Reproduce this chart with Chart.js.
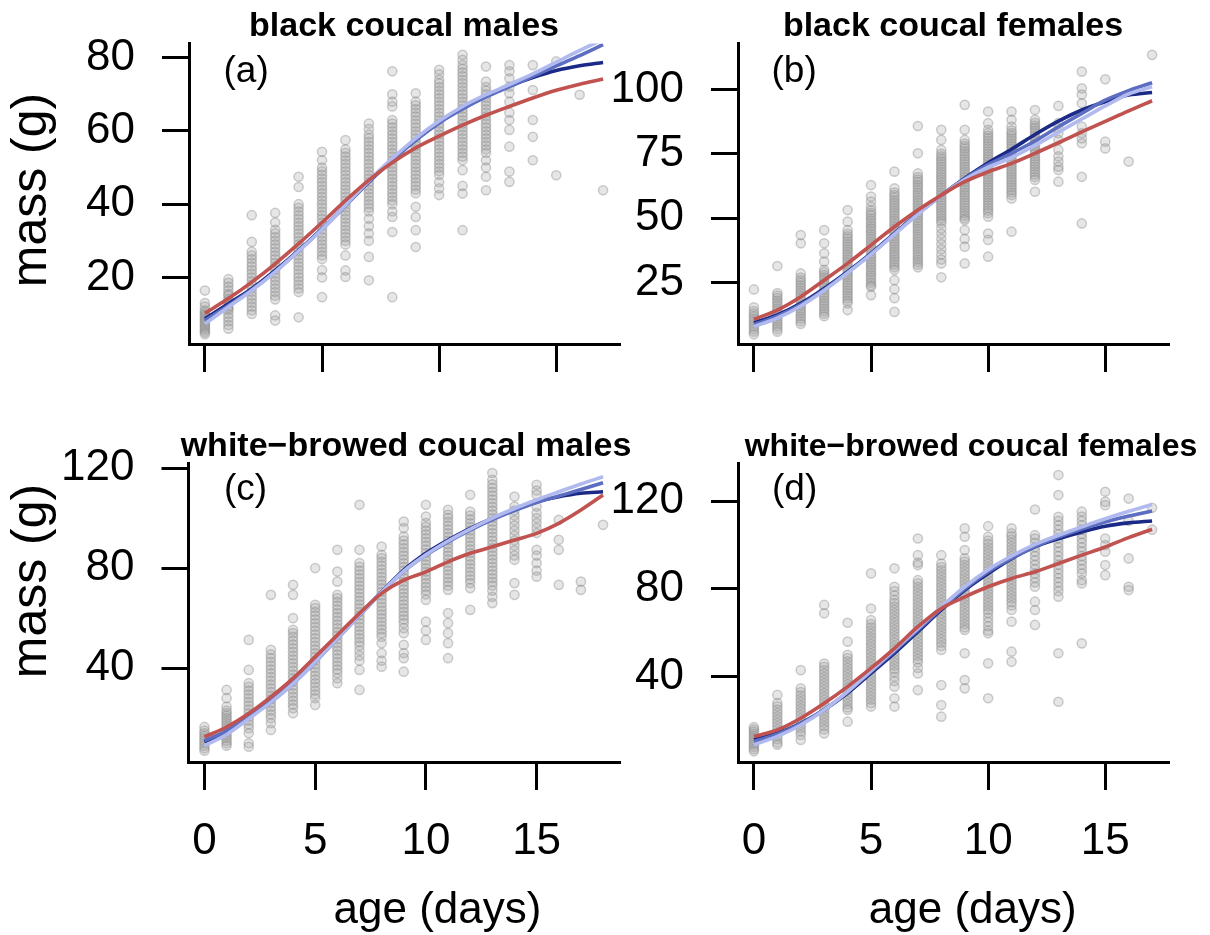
<!DOCTYPE html>
<html>
<head>
<meta charset="utf-8">
<script src="https://cdn.jsdelivr.net/npm/chart.js@4.4.1/dist/chart.umd.min.js"></script>
<style>
html,body{margin:0;padding:0;background:#fff;}
#wrap{position:relative;width:1210px;height:935px;overflow:hidden;background:#fff;}
#wrap canvas{position:absolute;left:0;top:0;}
</style>
</head>
<body>
<div id="wrap">
<canvas id="pa" width="1210" height="935"></canvas>
<canvas id="pb" width="1210" height="935"></canvas>
<canvas id="pc" width="1210" height="935"></canvas>
<canvas id="pd" width="1210" height="935"></canvas>
</div>
<script>
// ---------- tick labels ----------
const ageTicks = [0, 5, 10, 15];
const massTicksA = [20, 40, 60, 80];
const massTicksB = [25, 50, 75, 100];
const massTicksC = [40, 80, 120];
const massTicksD = [40, 80, 120];

// ---------- ages (days) ----------
const days17 = [0,1,2,3,4,5,6,7,8,9,10,11,12,13,14,15,16,17];
const days18 = [0,1,2,3,4,5,6,7,8,9,10,11,12,13,14,15,16,17,18];

// ---------- fitted growth curves (mass, g, at each day) ----------
const fitRedA   = [10.2,14.2,18.7,23.7,29.2,35.0,41.0,46.6,51.4,55.4,58.6,61.6,64.3,66.7,69.0,71.1,72.8,74.2];
const fitDarkA  = [8.7,12.8,16.9,21.9,27.4,33.3,39.7,46.1,52.1,57.5,62.3,66.2,69.6,72.3,74.6,76.5,77.8,78.7];
const fitMidA   = [8.2,12.3,16.6,21.6,27.2,33.2,39.6,46.1,52.0,57.5,62.2,66.0,69.3,72.1,74.9,77.8,80.6,83.6];
const fitLightA = [7.3,11.9,16.4,21.5,27.2,33.1,39.7,46.4,52.5,58.0,62.7,66.7,69.9,72.7,75.6,78.8,82.0,85.0];

const fitRedB   = [10.8,14.4,19.6,26.0,32.5,39.6,46.7,53.2,59.0,64.2,68.0,71.3,75.2,79.3,83.5,87.6,91.7,95.6];
const fitDarkB  = [9.5,12.5,17.0,22.8,29.3,36.4,44.2,51.9,58.8,65.5,71.5,76.8,82.5,87.7,92.0,95.2,97.8,98.8];
const fitMidB   = [8.8,12.0,16.5,22.3,29.0,36.2,44.0,51.8,59.0,65.3,70.8,75.2,80.0,85.5,90.7,95.8,99.5,102.6];
const fitLightB = [8.0,11.3,16.0,22.0,28.8,36.0,43.8,51.5,58.8,65.0,69.8,73.5,78.3,83.4,88.5,93.6,98.2,101.0];

const fitRedC   = [12.5,16.5,21.9,28.5,35.9,44.5,53.2,61.9,69.9,75.2,78.5,82.5,85.9,88.5,91.2,93.9,97.9,103.2,109.2];
const fitDarkC  = [10.5,14.5,20.5,26.5,33.9,42.5,51.9,61.2,70.5,79.2,85.9,91.2,95.9,99.9,103.2,106.5,108.5,109.9,110.5];
const fitMidC   = [11.0,15.0,20.8,27.0,34.3,42.8,52.0,61.2,70.3,78.7,85.2,90.5,95.2,99.4,103.0,106.2,108.8,111.4,114.1];
const fitLightC = [9.0,13.5,19.8,26.3,33.8,42.5,51.8,61.2,70.4,78.8,85.3,90.8,95.6,100.0,103.8,107.3,110.5,113.6,116.5];

const fitRedD   = [12.8,15.8,21.1,27.9,35.5,43.9,52.9,62.8,71.1,76.4,81.0,84.8,87.8,91.6,95.4,99.1,103.4,107.2];
const fitDarkD  = [11.3,14.3,18.8,24.9,32.5,41.6,50.7,60.5,70.4,79.5,87.0,93.8,99.2,102.9,106.0,108.6,110.1,111.0];
const fitMidD   = [10.5,13.8,18.6,25.0,33.0,42.3,51.7,61.3,71.0,80.0,87.8,94.0,99.3,103.6,107.3,110.5,113.2,115.5];
const fitLightD = [9.0,12.8,18.0,24.8,33.2,42.8,52.3,62.0,71.8,81.0,88.8,95.0,100.3,104.5,108.3,112.0,115.4,118.5];

// ---------- observed masses (g), one list per day ----------
const massA = [
 [16.4,13,12,11,10.5,10,9.5,9,8.5,8,7.5,7,6.5,6,5.5,5,4.5],
 [19.5,18.5,17.5,16.5,15.5,15,14,13.5,13,12,11.5,11,10,9,8,7,6],
 [37,29.7,27,26,25,24,23,22,21,20,19,18,17,16,15,14,13,12,11,10],
 [37.6,35,33,32,31,30,29,28,27,26,25,24,23,22,21,20,19,18,17,16,15,14,9.6,8.2],
 [47.5,44.7,40,39,38,37,36,35,34,33,32,31,30,29,28,27,26,25,24,23,22,21,20,19,18,17,16,9.1],
 [54.3,52,50,49,48,47,46,45,44,43,42,41,40,39,38,37,36,35,34,33,32,31,30,29,28,27,26,25,22,20,14.6],
 [57.5,55,54,53,52,51,50,49,48,47,46,45,44,43,42,41,40,39,38,37,36,35,34,33,32,31,30,29,26,21.9,20.1],
 [62,60.5,59,58,57,56,55,54,53,52,51,50,49,48,47,46,45,44,43,42,41,40,39,38,36,34,32,30,25.6,19.2],
 [76.3,70,68,66.7,63,62,61,60,59,58,57,56,55,54,53,52,51,50,49,48,47,46,45,44,43,42,41,40,38,36.5,32.4,14.6],
 [70.3,68,67,66,65,64,63,62,61,60,59,58,57,56,55,54,53,52,51,50,49,48,47,46,45,44,43,39.3,36.5,32.9,28.3],
 [76.7,75.5,74,73,72,71,70,69,68,67,66,65,64,63,62,61,60,59,58,57,56,55,54,53,52,51,50,49,48,46,44.3,42.5],
 [80.8,79.4,78,77,76,75,74,73,72,71,70,69,68,67,66,65,64,63,62,61,60,59,58,57,56,55,54,53,52,49.3,45,42.9,32.9],
 [77.6,73.5,72,71,70,69,68,67,66,65,64,63,62,61,60,59,58,57,56,55,54,52,50,47.5,43.8],
 [78,76.3,74.4,72.1,70.3,68,65,63,60.3,55.7,48.9,46.1],
 [78,71.2,63,58.4,52],
 [79,47.9],
 [69.9],
 [43.8]
];
const massB = [
 [22.4,15.5,14,13,12,11,10,9,8,7,6,5],
 [31.5,21,20,19,18,17,16,15,14,13,12,11,10,9,8,7,6],
 [43.5,40.3,28.6,27,26,25,24,23,22,21,20,19,18,17,16,15,14,13,12,11,10,9],
 [45.4,40.3,36.4,33.2,30,29,28,27,26,25,24,23,22,21,20,19,18,17,16,15,14,13,12],
 [53.2,48.7,45.4,44,43,42,41,40,39,38,37,36,35,34,33,32,31,30,29,28,27,26,25,24,23,22,21,20,19,18,17,14.4],
 [62.9,58.4,56.5,54.5,53,52,51,50,49,48,47,46,45,44,43,42,41,40,39,38,37,36,35,34,33,32,31,30,29,28,27,26,25,24,23.4,20.2],
 [68.1,61.6,60,59,58,57,56,55,54,53,52,51,50,49,48,47,46,45,44,43,42,41,40,39,38,37,36,35,34,33,32,31,30,26,22.5,19,13.7],
 [85.8,75.2,67.4,66,65,64,63,62,61,60,59,58,57,56,55,54,53,52,51,50,49,48,47,46,45,44,43,42,41,40,39,38,37,36,35,34,33,32,31],
 [84.3,80.4,76.5,75,74,73,72,71,70,69,68,67,66,65,64,63,62,61,60,59,58,57,56,55,54,53,52,51,50,49,48,46,44,42,40,38,36,34,32.5,27.1],
 [94,84.3,80.4,79,78,77,76,75,74,73,72,71,70,69,68,67,66,65,64,63,62,61,60,59,58,57,56,55,54,53,52,51,50,49.3,45.4,42,39,32.5],
 [91.4,86.9,84.3,83,82,81,80,79,78,77,76,75,74,73,72,71,70,69,68,67,66,65,64,63,62,61,60,59,58,57,56,55,54,53,52,50.6,44.1,41.6,35.1],
 [91.4,88.2,85.6,84,83,82,81,80,79,78,77,76,75,74,73,72,71,70,69,68,67,66,65,64,63,62,61,60,59,57.7,44.8],
 [92,88.2,87,86,85,84,83,82,81,80,79,78,77,76,75,74,73,72,71,70,69,68,67,66,64.9,60.3],
 [93.6,86.9,85,83,80.4,76.5,74,72,70,68.7,64.2],
 [106.9,100.4,98,94.6,85.6,83,81,79.1,66.1,48],
 [103.9,79.7,77.1],
 [72],
 [113.4]
];
const massC = [
 [16.5,15,14,13,12,11,10,9,8,7],
 [31.3,28,24.6,23,22,21,20,19,18,17,16,15,14,13,12,11,10,9],
 [51.3,39.3,34,32.5,31,29.5,28,26.5,25,23.5,22,20.5,19,17.5,16,14,10,8.6],
 [69.3,47.3,45.5,44,42.5,41,39.5,38,36.5,35,33.5,32,30.5,29,27.5,26,24.5,23,21.5,20,18,15.3],
 [73.3,69.3,60,55.3,54,52.5,51,49.5,48,46.5,45,43.5,42,40.5,39,37.5,36,34.5,33,31.5,30,28.5,27,25.5,24,22],
 [80,65.3,64,62.5,61,59.5,58,56.5,55,53.5,52,50.5,49,47.5,46,44.5,43,41.5,40,38.5,37,35.5,34,32.5,31,29.5,28,25.3],
 [87.3,78.6,74.6,69.3,68,66.5,65,63.5,62,60.5,59,57.5,56,54.5,53,51.5,50,48.5,47,45.5,44,42.5,41,39.5,38,36,34],
 [105.3,87.3,82,80.5,79,77.5,76,74.5,73,71.5,70,68.5,67,65.5,64,62.5,61,59.5,58,56.5,55,53.5,52,50.5,49,47,45,43,39.3,31.3],
 [88.6,85.3,84,82.5,81,79.5,78,76.5,75,73.5,72,70.5,69,67.5,66,64.5,63,61.5,60,58.5,57,55.5,54,52.5,50,46,43,40.6],
 [98.6,96,92.6,91,89.5,88,86.5,85,83.5,82,80.5,79,77.5,76,74.5,73,71.5,70,68.5,67,65.5,64,62.5,61,59.5,58,56,54,49.3,46,44,38.6],
 [105.3,100.6,98,96.5,95,93.5,92,90.5,89,87.5,86,84.5,83,81.5,80,78.5,77,75.5,74,72.5,71,69.5,67.3,58.6,55,51.3],
 [103.3,101.3,100,98.5,97,95.5,94,92.5,91,89.5,88,86.5,85,83.5,82,80.5,79,77.5,76,74.5,73,71.3,62,58,54,50,44],
 [109.3,102.6,101,99.5,98,96.5,95,93.5,92,90.5,89,87.5,86,84.5,83,81.5,80,78.5,77,75.5,74,72,63.3],
 [118,115.3,113.5,112,110.5,109,107.5,106,104.5,103,101.5,100,98.5,97,95.5,94,92.5,91,89.5,88,86.5,85,83.5,82,80.5,79,77.5,76,74.5,73,71,68.5,66],
 [108.6,104.6,103,101,99,97,95,93,91,89,87,85,83.3,74,69.3],
 [113.3,111,109.3,104.6,102,100,98,96,94,87.3,85,82,79,76.6],
 [99.3,91.3,87.3,73.3],
 [74.6,71.3],
 [97.3]
];
const massD = [
 [17,16,15,14,13,12,11,10,9,8,7,6],
 [31.7,28,26.5,25,23.5,22,20.5,19,17.5,16,14.5,13,11.5,10,9],
 [43,34.7,33,31.5,30,28.5,27,25.5,24,22.5,21,19.5,18,16.5,15,13.5,11.2],
 [72.7,68.9,46,44.5,43,41.5,40,38.5,37,35.5,34,32.5,31,29.5,28,26.5,25,23.5,22,20.5,19,17.5,16,14.2],
 [64.6,56,50,48.5,47,45.5,44,42.5,41,39.5,38,36.5,35,33.5,32,30.5,29,27.5,26,24.9,19.5],
 [87.1,71.1,65.8,64,62.5,61,59.5,58,56.5,55,53.5,52,50.5,49,47.5,46,44.5,43,41.5,40,38.5,37,35.5,34,32.5,31,29.5,28,26.4],
 [89.4,81,79,77,75,73.5,72,70.5,69,67.5,66,64.5,63,61.5,60,58.5,57,55.5,54,52.5,51,49.5,48,46.5,45,43.5,42,40,38,35.5,30.2,26.4],
 [103,95.4,92,90.9,84,82.5,81,79.5,78,76.5,75,73.5,72,70.5,69,67.5,66,64.5,63,61.5,60,58.5,57,55.5,54,52.5,51,49.5,48,46.5,44,41.5,33.9],
 [95.4,91.6,90,88.5,87,85.5,84,82.5,81,79.5,78,76.5,75,73.5,72,70.5,69,67.5,66,64.5,63,61.5,60,58.5,57,55.5,54,52.2,36.2,27.1,21.8],
 [107.6,103.8,97.7,94,92.5,91,89.5,88,86.5,85,83.5,82,80.5,79,77.5,76,74.5,73,71.5,70,68.5,67,65.5,64,62.5,61.3,50.7,38.5,34.7],
 [108.6,103.8,102,100.5,99,97.5,96,94.5,93,91.5,90,88.5,87,85.5,84,82.5,81,79.5,78,76.5,75,73.5,72,70.5,69,67,65,63,61,59.8,46.1,30.2],
 [107.6,105.3,104,102.5,101,99.5,98,96.5,95,93.5,92,90.5,89,87.5,86,84.5,83,81.5,80,78.5,77,75.5,74,72.5,70.4,65.1,51.4,46.8],
 [116.2,104.5,103,101,99,97,95,93,91,89,87,85,83,81,74.2,70.4,63.6],
 [131.9,122.8,112.9,111,109,107,105,103,101,99,97,95,93,91,89,87,85,83,81,79,76.5,50.7,28.6],
 [115.2,113,111,109,107,105,103,101,99,97,95,93,91,89,87,84,82.5,55.2],
 [124.3,119.7,118.2,103,100,97,90.9,86.3],
 [121.2,111,93.9,81,79.5],
 [117,107]
];

// ---------- styling ----------
const FONT = '"Liberation Sans", Arial, Helvetica, sans-serif';
const COL_RED = '#C0524F';
const COL_DARK = '#1B2A86';
const COL_MID = '#5D6EC2';
const COL_LIGHT = '#B0BAEE';

const panelText = {
  id: 'panelText',
  afterDraw(chart, args, opts) {
    const ctx = chart.ctx;
    (opts.items || []).forEach(it => {
      ctx.save();
      ctx.font = it.font;
      ctx.fillStyle = '#000';
      ctx.textAlign = it.align || 'left';
      ctx.textBaseline = 'alphabetic';
      ctx.translate(it.x, it.y);
      if (it.rot) ctx.rotate(it.rot);
      ctx.fillText(it.text, 0, 0);
      ctx.restore();
    });
  }
};

function toPoints(days, mass) {
  const pts = [];
  mass.forEach((col, i) => col.forEach(v => pts.push({x: days[i], y: v})));
  return pts;
}
function toCurve(days, vals) { return vals.map((v, i) => ({x: days[i], y: v})); }

function makePanel(id, cfg) {
  const W = 1210, H = 935;
  const [L, T, R, B] = cfg.area;
  const lineDs = (label, vals, color) => ({
    type: 'line', label, data: toCurve(cfg.days, vals),
    borderColor: color, backgroundColor: color, borderWidth: 3.6,
    pointRadius: 0, pointHoverRadius: 0, fill: false,
    cubicInterpolationMode: 'monotone', showLine: true
  });
  new Chart(document.getElementById(id), {
    type: 'scatter',
    data: {
      datasets: [
        lineDs('fit 1', cfg.red, COL_RED),
        lineDs('fit 2', cfg.light, COL_LIGHT),
        lineDs('fit 3', cfg.mid, COL_MID),
        lineDs('fit 4', cfg.dark, COL_DARK),
        {
          type: 'scatter', label: 'observed', data: toPoints(cfg.days, cfg.mass),
          pointRadius: 4.6, pointHoverRadius: 4.6,
          pointBackgroundColor: 'rgba(160,160,160,0.26)',
          pointBorderColor: 'rgba(135,135,135,0.40)',
          pointBorderWidth: 1.5, showLine: false
        }
      ]
    },
    options: {
      responsive: false, animation: false, events: [],
      layout: { autoPadding: false, padding: { left: 0, top: T, right: W - R, bottom: 0 } },
      plugins: {
        legend: { display: false }, tooltip: { enabled: false }, title: { display: false },
        panelText: { items: cfg.texts }
      },
      scales: {
        x: {
          type: 'linear', min: cfg.xr[0], max: cfg.xr[1],
          afterBuildTicks: s => { s.ticks = ageTicks.map(v => ({ value: v })); },
          afterFit: s => { s.height = H - B; s.paddingLeft = 0; s.paddingRight = 0; },
          grid: { display: true, drawOnChartArea: false, drawTicks: true, tickLength: 28, tickWidth: 3, lineWidth: 3, tickColor: '#000', color: '#000' },
          border: { display: true, color: '#000', width: 3 },
          ticks: { display: true, color: cfg.xLabels ? '#000' : 'rgba(0,0,0,0)', font: { family: FONT, size: 44 }, padding: 25, maxRotation: 0, minRotation: 0, autoSkip: false }
        },
        y: {
          type: 'linear', min: cfg.yr[0], max: cfg.yr[1],
          afterBuildTicks: s => { s.ticks = cfg.yTicks.map(v => ({ value: v })); },
          afterFit: s => { s.width = L; s.paddingTop = 0; s.paddingBottom = 0; },
          grid: { display: true, drawOnChartArea: false, drawTicks: true, tickLength: 27, tickWidth: 3, lineWidth: 3, tickColor: '#000', color: '#000' },
          border: { display: true, color: '#000', width: 3 },
          ticks: { display: true, color: '#000', font: { family: FONT, size: 44 }, padding: 27, autoSkip: false }
        }
      }
    },
    plugins: [panelText]
  });
}

const TITLE_FONT = 'bold 34px ' + FONT;
const TITLE_FONT_D = 'bold 32px ' + FONT;
const TAG_FONT = '37px ' + FONT;
const AXT_FONT = '44px ' + FONT;
const YT_FONT = '50px ' + FONT;

makePanel('pa', {
  area: [189, 43.5, 619, 344], xr: [-0.68, 17.68], yr: [1.8, 83.9], yTicks: massTicksA,
  days: days17, red: fitRedA, dark: fitDarkA, mid: fitMidA, light: fitLightA, mass: massA, xLabels: false,
  texts: [
    { text: 'black coucal males', x: 404, y: 36, font: TITLE_FONT, align: 'center' },
    { text: '(a)', x: 223.5, y: 82, font: TAG_FONT, align: 'left' },
    { text: 'mass (g)', x: 46, y: 190, font: YT_FONT, align: 'center', rot: -Math.PI / 2 }
  ]
});
makePanel('pb', {
  area: [738, 43.5, 1168, 344], xr: [-0.68, 17.68], yr: [1.24, 117.8], yTicks: massTicksB,
  days: days17, red: fitRedB, dark: fitDarkB, mid: fitMidB, light: fitLightB, mass: massB, xLabels: false,
  texts: [
    { text: 'black coucal females', x: 953, y: 36, font: TITLE_FONT, align: 'center' },
    { text: '(b)', x: 771.5, y: 82, font: TAG_FONT, align: 'left' }
  ]
});
makePanel('pc', {
  area: [188.5, 463, 619, 762], xr: [-0.72, 18.72], yr: [2.5, 122], yTicks: massTicksC,
  days: days18, red: fitRedC, dark: fitDarkC, mid: fitMidC, light: fitLightC, mass: massC, xLabels: true,
  texts: [
    { text: 'white\u2212browed coucal males', x: 406, y: 455.5, font: TITLE_FONT, align: 'center' },
    { text: '(c)', x: 224, y: 500, font: TAG_FONT, align: 'left' },
    { text: 'mass (g)', x: 46, y: 581, font: YT_FONT, align: 'center', rot: -Math.PI / 2 },
    { text: 'age (days)', x: 437.5, y: 923, font: AXT_FONT, align: 'center' }
  ]
});
makePanel('pd', {
  area: [738, 463, 1168, 762], xr: [-0.68, 17.68], yr: [1.14, 137.4], yTicks: massTicksD,
  days: days17, red: fitRedD, dark: fitDarkD, mid: fitMidD, light: fitLightD, mass: massD, xLabels: true,
  texts: [
    { text: 'white\u2212browed coucal females', x: 971, y: 455.5, font: TITLE_FONT_D, align: 'center' },
    { text: '(d)', x: 772, y: 500, font: TAG_FONT, align: 'left' },
    { text: 'age (days)', x: 972.7, y: 923, font: AXT_FONT, align: 'center' }
  ]
});
</script>
</body>
</html>
